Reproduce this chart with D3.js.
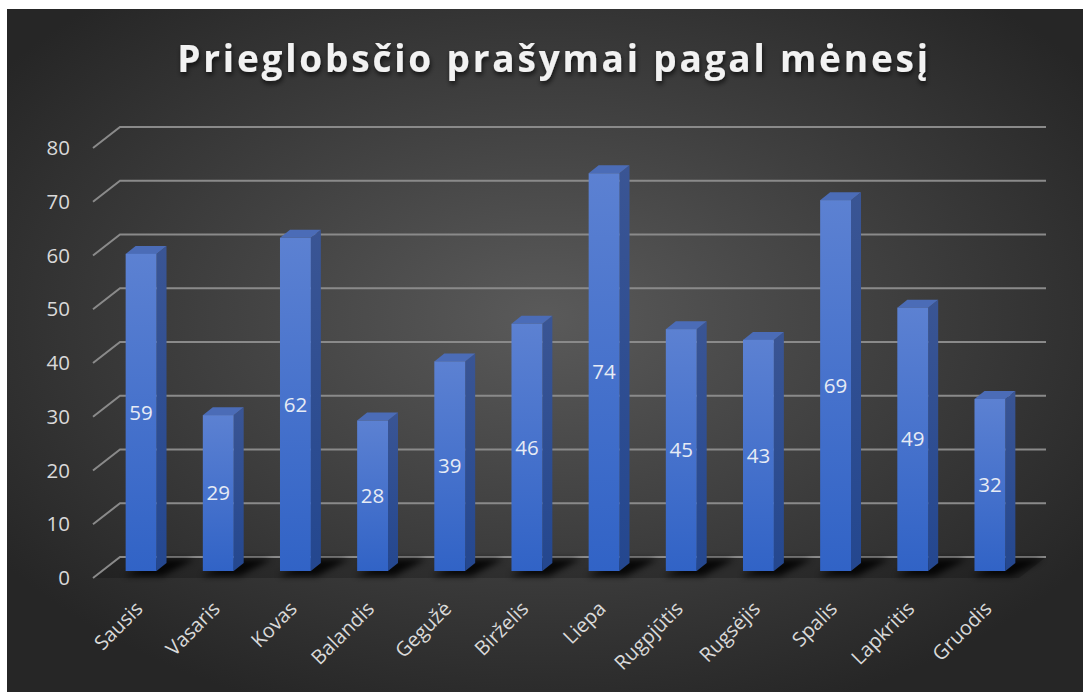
<!DOCTYPE html>
<html>
<head>
<meta charset="utf-8">
<script src="https://cdn.jsdelivr.net/npm/d3@7"></script>
<style>
  body { margin: 0; background: #fff; }
  svg { display: block; }
  text { font-family: "Open Sans", "DejaVu Sans", sans-serif; }
</style>
</head>
<body>
<div id="chart"></div>
<script>
const months = ['Sausis', 'Vasaris', 'Kovas', 'Balandis', 'Gegužė', 'Birželis',
                'Liepa', 'Rugpjūtis', 'Rugsėjis', 'Spalis', 'Lapkritis', 'Gruodis'];
const values = [59, 29, 62, 28, 39, 46, 74, 45, 43, 69, 49, 32];
const yTicks = [0, 10, 20, 30, 40, 50, 60, 70, 80];
const title = 'Prieglobsčio prašymai pagal mėnesį';

const width = 1083, height = 692;

const svg = d3.select('#chart').append('svg')
  .attr('width', width)
  .attr('height', height);

const defs = svg.append('defs');

const bg = defs.append('radialGradient').attr('id', 'bg')
  .attr('cx', '50%').attr('cy', '45%').attr('r', '62%');
bg.append('stop').attr('offset', '0%').attr('stop-color', '#5a5a5a');
bg.append('stop').attr('offset', '100%').attr('stop-color', '#262626');

const front = defs.append('linearGradient').attr('id', 'front')
  .attr('x1', 0).attr('y1', 0).attr('x2', 0).attr('y2', 1);
front.append('stop').attr('offset', '0%').attr('stop-color', '#5c81d2');
front.append('stop').attr('offset', '100%').attr('stop-color', '#3163c6');

const side = defs.append('linearGradient').attr('id', 'side')
  .attr('x1', 0).attr('y1', 0).attr('x2', 0).attr('y2', 1);
side.append('stop').attr('offset', '0%').attr('stop-color', '#3a5594');
side.append('stop').attr('offset', '100%').attr('stop-color', '#24478f');

defs.append('filter').attr('id', 'blur')
  .attr('x', '-50%').attr('y', '-50%').attr('width', '200%').attr('height', '200%')
  .append('feGaussianBlur').attr('stdDeviation', 3);

const ts = defs.append('filter').attr('id', 'tshadow')
  .attr('x', '-10%').attr('y', '-30%').attr('width', '120%').attr('height', '160%');
ts.append('feDropShadow').attr('dx', 1).attr('dy', 3).attr('stdDeviation', 2.5)
  .attr('flood-color', '#000').attr('flood-opacity', 0.7);

svg.append('rect')
  .attr('x', 7).attr('y', 9)
  .attr('width', width - 7).attr('height', height - 9)
  .attr('fill', 'url(#bg)');

// scales (back wall plane)
const x = d3.scaleBand().domain(months).range([120, 1046]);
const y = d3.scaleLinear().domain([0, 80]).range([557, 127]);

// depth offsets
const wallDx = -27, wallDy = 21;   // front edge of the floor / gridline start
const barDx = -17.5, barDy = 14;   // front face of the bars
const sideDx = 10, sideDy = -8;    // bar depth
const barW = x.bandwidth() * 0.4;

svg.append('text')
  .attr('x', 554).attr('y', 72)
  .attr('text-anchor', 'middle')
  .attr('font-size', 37)
  .attr('font-weight', 700)
  .attr('letter-spacing', 2.8)
  .attr('fill', '#f2f2f2')
  .attr('filter', 'url(#tshadow)')
  .text(title);

// floor shading
svg.append('path')
  .attr('d', `M${x.range()[0]},${y(0)} L${x.range()[1]},${y(0)} L${x.range()[1] + wallDx},${y(0) + wallDy} L${x.range()[0] + wallDx},${y(0) + wallDy} Z`)
  .attr('fill', '#000').attr('opacity', 0.2);

// gridlines
const grid = svg.append('g');
grid.selectAll('path').data(yTicks).enter().append('path')
  .attr('d', d => `M${x.range()[0] + wallDx},${y(d) + wallDy} L${x.range()[0]},${y(d)} L${x.range()[1]},${y(d)}`)
  .attr('fill', 'none')
  .attr('stroke', '#8a8a8a')
  .attr('stroke-width', 2);

// y axis labels
svg.append('g').selectAll('text').data(yTicks).enter().append('text')
  .attr('x', 70)
  .attr('y', d => y(d) + wallDy)
  .attr('dy', '0.35em')
  .attr('text-anchor', 'end')
  .attr('font-size', 20.5)
  .attr('fill', '#d9d9d9')
  .text(d => d);

const fx = d => x(d) + x.bandwidth() / 2 + barDx - barW / 2;
const base = y(0) + barDy;

// bar shadows on the floor
svg.append('g').selectAll('path').data(months).enter().append('path')
  .attr('d', d => {
    const x0 = fx(d) - 2;
    return `M${x0},${base + 5} L${x0 + barW + 8},${base + 5} L${x0 + barW + 40},${y(0) + 2} L${x0 + barW + 4},${y(0) + 2} Z`;
  })
  .attr('fill', '#000').attr('opacity', 0.85)
  .attr('filter', 'url(#blur)');

const bars = svg.append('g').selectAll('g').data(months).enter().append('g');

bars.append('path')
  .attr('d', (d, i) => {
    const x1 = fx(d) + barW, yt = y(values[i]) + barDy;
    return `M${x1},${yt} L${x1 + sideDx},${yt + sideDy} L${x1 + sideDx},${base + sideDy} L${x1},${base} Z`;
  })
  .attr('fill', 'url(#side)');

bars.append('path')
  .attr('d', (d, i) => {
    const x0 = fx(d), yt = y(values[i]) + barDy;
    return `M${x0},${yt} L${x0 + sideDx},${yt + sideDy} L${x0 + barW + sideDx},${yt + sideDy} L${x0 + barW},${yt} Z`;
  })
  .attr('fill', '#4b6cb7');

bars.append('rect')
  .attr('x', d => fx(d))
  .attr('y', (d, i) => y(values[i]) + barDy)
  .attr('width', barW)
  .attr('height', (d, i) => y(0) - y(values[i]))
  .attr('fill', 'url(#front)');

bars.append('text')
  .attr('x', d => fx(d) + barW / 2)
  .attr('y', (d, i) => (y(values[i]) + y(0)) / 2 + barDy)
  .attr('dy', '0.35em')
  .attr('text-anchor', 'middle')
  .attr('font-size', 20.5)
  .attr('fill', '#e6ebf5')
  .text((d, i) => values[i]);

// x axis labels
svg.append('g').selectAll('text').data(months).enter().append('text')
  .attr('transform', d => `translate(${fx(d) + barW / 2 - 2},${base + 34}) rotate(-45)`)
  .attr('text-anchor', 'end')
  .attr('dy', '0.35em')
  .attr('font-size', 20)
  .attr('fill', '#d9d9d9')
  .text(d => d);
</script>
</body>
</html>
